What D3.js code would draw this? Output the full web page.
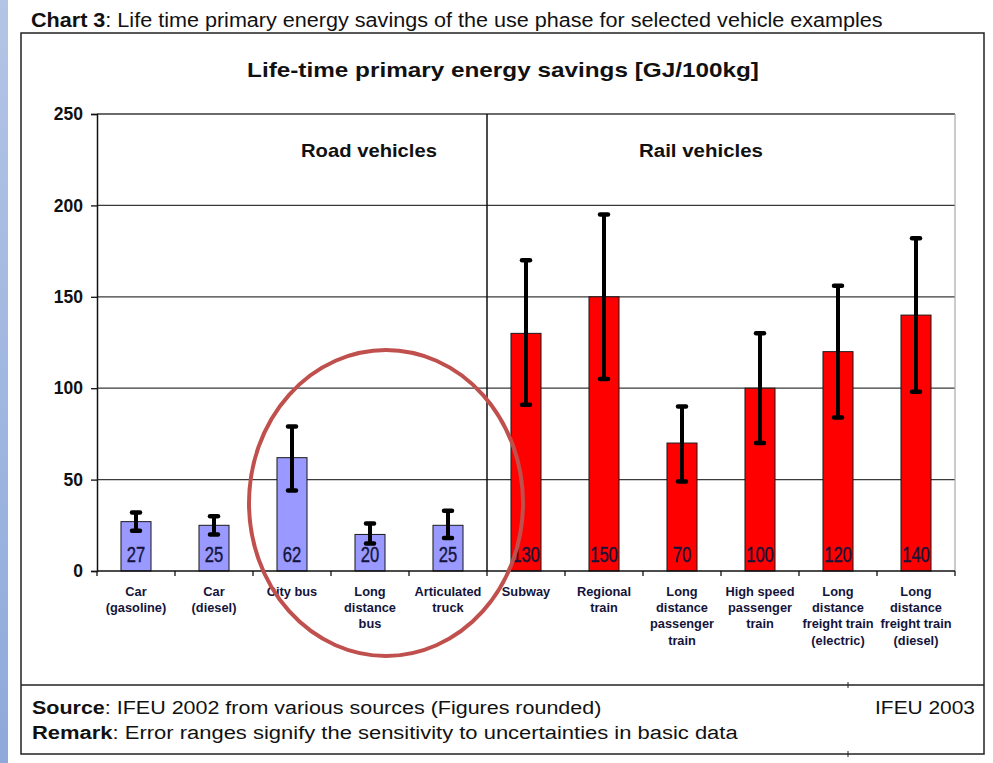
<!DOCTYPE html>
<html>
<head>
<meta charset="utf-8">
<script src="https://cdn.jsdelivr.net/npm/d3@7"></script>
<style>
  html, body { margin: 0; padding: 0; background: #ffffff; }
  svg { display: block; }
  text { font-family: "Liberation Sans", Arial, sans-serif; }
</style>
</head>
<body>
<script>
// ---------------- DATA ----------------
const categories = [
  "Car (gasoline)", "Car (diesel)", "City bus", "Long distance bus", "Articulated truck",
  "Subway", "Regional train", "Long distance passenger train", "High speed passenger train",
  "Long distance freight train (electric)", "Long distance freight train (diesel)"
];
const categoryLabelLines = [
  ["Car", "(gasoline)"], ["Car", "(diesel)"], ["City bus"], ["Long", "distance", "bus"],
  ["Articulated", "truck"], ["Subway"], ["Regional", "train"],
  ["Long", "distance", "passenger", "train"], ["High speed", "passenger", "train"],
  ["Long", "distance", "freight train", "(electric)"], ["Long", "distance", "freight train", "(diesel)"]
];
const groups = ["Road", "Road", "Road", "Road", "Road", "Rail", "Rail", "Rail", "Rail", "Rail", "Rail"];
const values = [27, 25, 62, 20, 25, 130, 150, 70, 100, 120, 140];
const errLow = [22, 20, 44, 15, 18, 91, 105, 49, 70, 84, 98];
const errHigh = [32, 30, 79, 26, 33, 170, 195, 90, 130, 156, 182];
const yTicks = [0, 50, 100, 150, 200, 250];
const sectionLabels = ["Road vehicles", "Rail vehicles"];
const chartTitle = "Life-time primary energy savings [GJ/100kg]";
const headerBold = "Chart 3";
const headerRest = ": Life time primary energy savings of the use phase for selected vehicle examples";
const sourceBold = "Source";
const sourceRest = ": IFEU 2002 from various sources (Figures rounded)";
const remarkBold = "Remark";
const remarkRest = ": Error ranges signify the sensitivity to uncertainties in basic data";
const creditText = "IFEU 2003";

// ---------------- LAYOUT ----------------
const W = 993, H = 763;
const plot = { left: 97, right: 955, top: 114, bottom: 571 };
const colors = { Road: "#9999ff", Rail: "#ff0000" };
const textColor = "#14143a";

const svg = d3.select("body").append("svg").attr("width", W).attr("height", H);
svg.append("rect").attr("width", W).attr("height", H).attr("fill", "#ffffff");

// left decorative strip
const defs = svg.append("defs");
const grad = defs.append("linearGradient").attr("id", "strip").attr("x1", 0).attr("y1", 0).attr("x2", 0).attr("y2", 1);
grad.append("stop").attr("offset", "0%").attr("stop-color", "#b3c5e6");
grad.append("stop").attr("offset", "100%").attr("stop-color", "#8ea9da");
svg.append("rect").attr("x", 0).attr("y", 0).attr("width", 8).attr("height", H).attr("fill", "url(#strip)");

// helper: fit text to a width by horizontal scaling around anchor x
function fitWidth(sel, target, ax) {
  const w = sel.node().getComputedTextLength();
  if (w > 0) {
    const s = target / w;
    sel.attr("transform", `translate(${ax},0) scale(${s},1) translate(${-ax},0)`);
  }
}

// header
const header = svg.append("text").attr("x", 31).attr("y", 27).attr("font-size", 19.5).attr("fill", "#111");
header.append("tspan").attr("font-weight", "bold").text(headerBold);
header.append("tspan").text(headerRest);
fitWidth(header, 852, 31);

// outer frame
svg.append("rect").attr("x", 21).attr("y", 33).attr("width", 963).attr("height", 721)
  .attr("fill", "none").attr("stroke", "#222").attr("stroke-width", 1.5);
svg.append("line").attr("x1", 21).attr("x2", 984).attr("y1", 685).attr("y2", 685)
  .attr("stroke", "#222").attr("stroke-width", 1.5);
[685, 754].forEach(yy => {
  svg.append("line").attr("x1", 848).attr("x2", 848).attr("y1", yy - 3).attr("y2", yy + 3)
    .attr("stroke", "#222").attr("stroke-width", 1);
});

// chart title
const title = svg.append("text").attr("x", 503).attr("y", 77).attr("text-anchor", "middle")
  .attr("font-size", 20).attr("font-weight", "bold").attr("fill", "#111").text(chartTitle);
fitWidth(title, 512, 503);

// scales
const x = d3.scaleBand().domain(categories).range([plot.left, plot.right]).padding(0);
const y = d3.scaleLinear().domain([0, 250]).range([plot.bottom, plot.top]);
const barW = x.bandwidth() * 0.385;

// gridlines
svg.append("g").selectAll("line").data(yTicks.filter(d => d > 0)).join("line")
  .attr("x1", plot.left).attr("x2", plot.right)
  .attr("y1", d => y(d)).attr("y2", d => y(d))
  .attr("stroke", "#3a3a3a").attr("stroke-width", 1.3);

// right plot border
svg.append("line").attr("x1", plot.right).attr("x2", plot.right).attr("y1", plot.top).attr("y2", plot.bottom)
  .attr("stroke", "#a8a8a8").attr("stroke-width", 1.2);

// road / rail divider
const divX = x(categories[groups.indexOf("Rail")]);
svg.append("line").attr("x1", divX).attr("x2", divX).attr("y1", plot.top).attr("y2", plot.bottom)
  .attr("stroke", "#111").attr("stroke-width", 1.5);

// section labels
const secPos = [369, 701];
const secWidth = [136, 124];
sectionLabels.forEach((s, i) => {
  const t = svg.append("text").attr("x", secPos[i]).attr("y", 157).attr("text-anchor", "middle")
    .attr("font-size", 19).attr("font-weight", "bold").attr("fill", "#111").text(s);
  fitWidth(t, secWidth[i], secPos[i]);
});

// y axis
const yAxis = svg.append("g").attr("transform", `translate(${plot.left},0)`)
  .call(d3.axisLeft(y).tickValues(yTicks).tickSize(6).tickPadding(8).tickFormat(d3.format("d")));
yAxis.select(".domain").attr("stroke", "#111").attr("stroke-width", 1.5);
yAxis.selectAll(".tick line").attr("stroke", "#111").attr("stroke-width", 1.3);
yAxis.selectAll(".tick text").attr("font-size", 17.5).attr("font-weight", "bold").attr("fill", "#111")
  .attr("font-family", "'Liberation Sans', Arial, sans-serif");

// bars
const data = categories.map((c, i) => ({ c, v: values[i], lo: errLow[i], hi: errHigh[i], g: groups[i], lines: categoryLabelLines[i] }));
const cx = d => x(d.c) + x.bandwidth() / 2;

svg.append("g").selectAll("rect").data(data).join("rect")
  .attr("x", d => cx(d) - barW / 2).attr("width", barW)
  .attr("y", d => y(d.v)).attr("height", d => y(0) - y(d.v))
  .attr("fill", d => colors[d.g]).attr("stroke", "#1a1a1a").attr("stroke-width", 1);

// value labels inside bars
svg.append("g").selectAll("text").data(data).join("text")
  .attr("text-anchor", "middle").attr("font-size", 17.5).attr("fill", textColor)
  .attr("stroke", textColor).attr("stroke-width", 0.3)
  .attr("transform", d => `translate(${cx(d)},${562}) scale(0.95,1.25)`)
  .text(d => d.v);

// error bars
const eb = svg.append("g");
eb.selectAll("line.v").data(data).join("line").attr("class", "v")
  .attr("x1", cx).attr("x2", cx).attr("y1", d => y(d.lo)).attr("y2", d => y(d.hi))
  .attr("stroke", "#000").attr("stroke-width", 4);
["lo", "hi"].forEach(k => {
  eb.selectAll("line.c" + k).data(data).join("line").attr("class", "c" + k)
    .attr("x1", d => cx(d) - 4).attr("x2", d => cx(d) + 4)
    .attr("y1", d => y(d[k])).attr("y2", d => y(d[k]))
    .attr("stroke", "#000").attr("stroke-width", 4.5).attr("stroke-linecap", "round");
});

// x axis line & ticks at band edges
svg.append("line").attr("x1", plot.left).attr("x2", plot.right).attr("y1", y(0)).attr("y2", y(0))
  .attr("stroke", "#111").attr("stroke-width", 1.6);
const edges = categories.map(c => x(c)).concat([plot.right]);
svg.append("g").selectAll("line").data(edges).join("line")
  .attr("x1", d => d).attr("x2", d => d).attr("y1", y(0)).attr("y2", y(0) + 5)
  .attr("stroke", "#111").attr("stroke-width", 1.3);

// category labels
const lbl = svg.append("g").selectAll("text").data(data).join("text")
  .attr("text-anchor", "middle").attr("font-size", 12.8).attr("font-weight", "bold").attr("fill", textColor);
lbl.each(function (d) {
  const t = d3.select(this);
  d.lines.forEach((ln, j) => {
    t.append("tspan").attr("x", cx(d)).attr("y", 596 + j * 16.2).text(ln);
  });
});

// footer
const src = svg.append("text").attr("x", 32).attr("y", 714).attr("font-size", 19).attr("fill", "#111");
src.append("tspan").attr("font-weight", "bold").text(sourceBold);
src.append("tspan").text(sourceRest);
fitWidth(src, 570, 32);
const rem = svg.append("text").attr("x", 32).attr("y", 739).attr("font-size", 19).attr("fill", "#111");
rem.append("tspan").attr("font-weight", "bold").text(remarkBold);
rem.append("tspan").text(remarkRest);
fitWidth(rem, 706, 32);
const cred = svg.append("text").attr("x", 975).attr("y", 714).attr("text-anchor", "end")
  .attr("font-size", 19).attr("fill", "#111").text(creditText);
fitWidth(cred, 100, 975);

// highlight ellipse
svg.append("ellipse").attr("cx", 386).attr("cy", 503).attr("rx", 137).attr("ry", 153)
  .attr("fill", "none").attr("stroke", "#c0504d").attr("stroke-width", 4);
</script>
</body>
</html>
